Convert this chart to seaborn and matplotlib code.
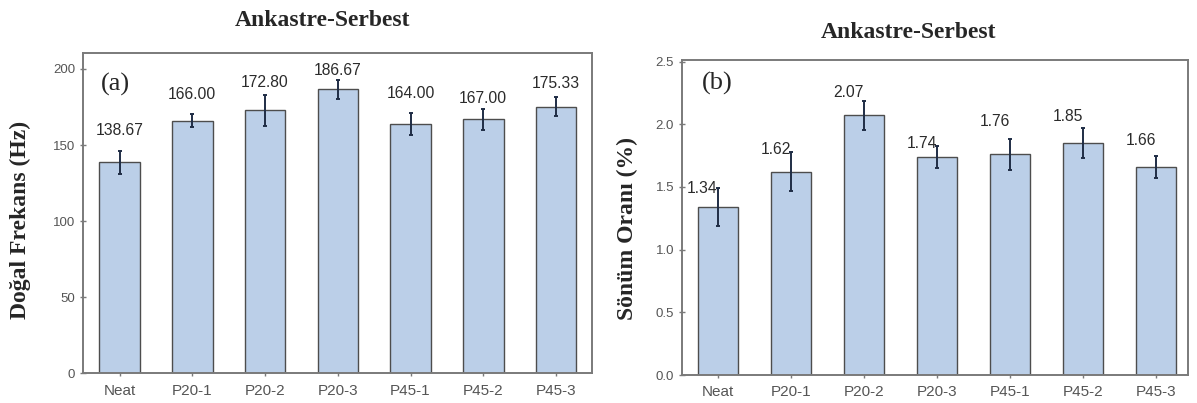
import matplotlib
matplotlib.use("Agg")
import matplotlib.pyplot as plt
import seaborn as sns
import pandas as pd

# ---------------- data ----------------
categories = ["Neat", "P20-1", "P20-2", "P20-3", "P45-1", "P45-2", "P45-3"]
freq_values = [138.67, 166.00, 172.80, 186.67, 164.00, 167.00, 175.33]
freq_errors = [7.5, 4.4, 10.4, 6.4, 7.3, 7.0, 6.0]
damp_values = [1.34, 1.62, 2.07, 1.74, 1.76, 1.85, 1.66]
damp_errors = [0.155, 0.155, 0.115, 0.09, 0.125, 0.12, 0.09]

title_text = "Ankastre-Serbest"
ylabel_a = "Doğal Frekans (Hz)"
ylabel_b = "Sönüm Oranı (%)"
panel_a = "(a)"
panel_b = "(b)"
yticks_a = [0, 50, 100, 150, 200]
yticks_b = [0.0, 0.5, 1.0, 1.5, 2.0, 2.5]

# ---------------- layout / style ----------------
W, H = 1197, 403
bar_color = "#BBCFE8"
edge_color = "#4d4d4d"
err_color = "#1f2d45"
spine_color = "#7a7a7a"
tick_color = "#555555"
value_color = "#2b2b2b"
# label offset (pixels) of value-label centre above the error-bar top
dy_a = [20, 20, 12, 9.5, 19, 10, 14]
dy_b = [-1, 2.5, 9, 2.5, 17.5, 11, 15.5]

sns.set_style("ticks")
plt.rcParams["font.family"] = ["Liberation Sans", "DejaVu Sans"]
serif = ["Liberation Serif", "DejaVu Serif"]

fig = plt.figure(figsize=(W / 100, H / 100), dpi=100)


def frac_box(x0, x1, ytop, ybot):
    return [x0 / W, 1 - ybot / H, (x1 - x0) / W, (ybot - ytop) / H]


ax_a = fig.add_axes(frac_box(82.7, 591.7, 53, 373.3))
ax_b = fig.add_axes(frac_box(681.7, 1188, 60, 375))


def draw(ax, values, errors, yticks, ylim, xlim, fmt, dys, right_labels):
    df = pd.DataFrame({"cat": categories, "val": values})
    sns.barplot(data=df, x="cat", y="val", color=bar_color, saturation=1,
                width=0.557, edgecolor=edge_color, linewidth=1.0,
                errorbar=None, ax=ax, zorder=2)
    xs = list(range(len(categories)))
    ax.errorbar(xs, values, yerr=errors, fmt="none", ecolor=err_color,
                elinewidth=1.4, capsize=1.5, capthick=1.4, zorder=3)
    for x, v, e, dy in zip(xs, values, errors, dys):
        if right_labels:
            ax.annotate(fmt.format(v), (x, v + e), xytext=(0, dy * 0.72),
                        textcoords="offset points", ha="right", va="center",
                        fontsize=11.3, color=value_color, zorder=4)
        else:
            ax.annotate(fmt.format(v), (x, v + e), xytext=(0, dy * 0.72),
                        textcoords="offset points", ha="center", va="center",
                        fontsize=11.3, color=value_color, zorder=4)
    ax.set_xlim(*xlim)
    ax.set_ylim(*ylim)
    ax.set_yticks(yticks)
    ax.set_xlabel("")
    ax.set_ylabel("")
    for s in ax.spines.values():
        s.set_color(spine_color)
        s.set_linewidth(1.4)
        s.set_visible(True)
    ax.tick_params(axis="y", direction="inout", length=5, width=1.0,
                   color=spine_color, labelsize=9.5, labelcolor=tick_color, pad=3)
    ax.tick_params(axis="x", direction="inout", length=5, width=1.0,
                   color=spine_color, labelsize=11, labelcolor=tick_color, pad=5)


draw(ax_a, freq_values, freq_errors, yticks_a, (0, 210.5), (-0.506, 6.49),
     "{:.2f}", dy_a, False)
ax_a.set_yticklabels([str(t) for t in yticks_a])
draw(ax_b, damp_values, damp_errors, yticks_b, (0, 2.512), (-0.497, 6.44),
     "{:.2f}", dy_b, True)
ax_b.set_yticklabels(["{:.1f}".format(t) for t in yticks_b])

# titles
fig.text(323 / W, 1 - 21 / H, title_text, ha="center", va="center",
         family=serif, fontweight="bold", fontsize=17)
fig.text(909 / W, 1 - 32 / H, title_text, ha="center", va="center",
         family=serif, fontweight="bold", fontsize=17)

# y labels
fig.text(20 / W, 1 - 220 / H, ylabel_a, rotation=90, ha="center", va="center",
         family=serif, fontweight="bold", fontsize=17)
fig.text(627 / W, 1 - 228.5 / H, ylabel_b, rotation=90, ha="center", va="center",
         family=serif, fontweight="bold", fontsize=17)

# panel letters
fig.text(115 / W, 1 - 84 / H, panel_a, ha="center", va="center",
         family=serif, fontsize=19)
fig.text(717 / W, 1 - 83 / H, panel_b, ha="center", va="center",
         family=serif, fontsize=19)

fig.savefig("out.png", dpi=100)
